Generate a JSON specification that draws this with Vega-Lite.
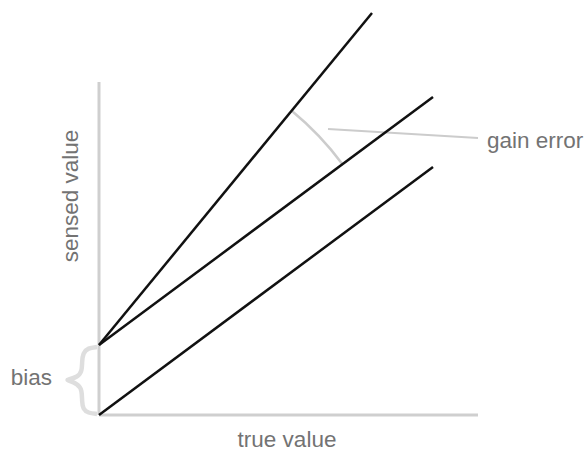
{
  "$schema": "https://vega.github.io/schema/vega-lite/v6.json",
  "width": 588,
  "height": 453,
  "autosize": {"type": "none"},
  "padding": 0,
  "background": "white",
  "config": {"view": {"stroke": null}, "font": "Liberation Sans"},
  "datasets": {
    "axes": [
      {"s": "y axis", "x": 0, "y": 0},
      {"s": "y axis", "x": 0, "y": 333},
      {"s": "x axis", "x": 0, "y": 0},
      {"s": "x axis", "x": 379, "y": 0}
    ],
    "lines": [
      {"s": "gain and bias", "x": 0, "y": 70},
      {"s": "gain and bias", "x": 273, "y": 402},
      {"s": "bias", "x": 0, "y": 70},
      {"s": "bias", "x": 334, "y": 318},
      {"s": "ideal", "x": 0, "y": 0},
      {"s": "ideal", "x": 334, "y": 248}
    ],
    "arc": [{"x": 0, "y": 70}],
    "leader": [
      {"x": 229, "y": 286},
      {"x": 379, "y": 277}
    ],
    "brace": [
      {"o": 1, "x": -2, "y": 68},
      {"o": 2, "x": -11, "y": 67},
      {"o": 3, "x": -16, "y": 62},
      {"o": 4, "x": -17, "y": 53},
      {"o": 5, "x": -17, "y": 44},
      {"o": 6, "x": -21, "y": 38},
      {"o": 7, "x": -32, "y": 35},
      {"o": 8, "x": -32, "y": 35},
      {"o": 9, "x": -21, "y": 31},
      {"o": 10, "x": -17, "y": 25},
      {"o": 11, "x": -17, "y": 13},
      {"o": 12, "x": -16, "y": 6},
      {"o": 13, "x": -11, "y": 2},
      {"o": 14, "x": -2, "y": 1}
    ]
  },
  "encoding": {
    "x": {"field": "x", "type": "quantitative", "scale": {"domain": [-99, 489], "nice": false, "zero": false}, "axis": null},
    "y": {"field": "y", "type": "quantitative", "scale": {"domain": [-38, 415], "nice": false, "zero": false}, "axis": null}
  },
  "layer": [
    {
      "data": {"name": "axes"},
      "mark": {"type": "line", "color": "#cfcfcf", "strokeWidth": 3, "strokeCap": "butt"},
      "encoding": {"detail": {"field": "s"}}
    },
    {
      "data": {"name": "brace"},
      "mark": {"type": "line", "color": "#dedede", "strokeWidth": 4.5, "interpolate": "basis"},
      "encoding": {"order": {"field": "o", "type": "quantitative"}}
    },
    {
      "data": {"name": "arc"},
      "mark": {"type": "arc", "innerRadius": 302, "outerRadius": 304.5, "theta": 0.691, "theta2": 0.93, "color": "#cccccc"}
    },
    {
      "data": {"name": "leader"},
      "mark": {"type": "line", "color": "#cccccc", "strokeWidth": 2}
    },
    {
      "data": {"name": "lines"},
      "mark": {"type": "line", "color": "#111111", "strokeWidth": 2.5},
      "encoding": {"detail": {"field": "s"}}
    },
    {
      "data": {"values": [{"x": 388, "y": 267, "label": "gain error"}]},
      "mark": {"type": "text", "align": "left", "baseline": "alphabetic", "fontSize": 22.5, "color": "#737373"},
      "encoding": {"text": {"field": "label"}}
    },
    {
      "data": {"values": [{"x": 188, "y": -32, "label": "true value"}]},
      "mark": {"type": "text", "align": "center", "baseline": "alphabetic", "fontSize": 22.5, "color": "#737373"},
      "encoding": {"text": {"field": "label"}}
    },
    {
      "data": {"values": [{"x": -47, "y": 30, "label": "bias"}]},
      "mark": {"type": "text", "align": "right", "baseline": "alphabetic", "fontSize": 22.5, "color": "#737373"},
      "encoding": {"text": {"field": "label"}}
    },
    {
      "data": {"values": [{"x": -21, "y": 219, "label": "sensed value"}]},
      "mark": {"type": "text", "align": "center", "baseline": "alphabetic", "angle": 270, "fontSize": 22.5, "color": "#737373"},
      "encoding": {"text": {"field": "label"}}
    }
  ]
}
